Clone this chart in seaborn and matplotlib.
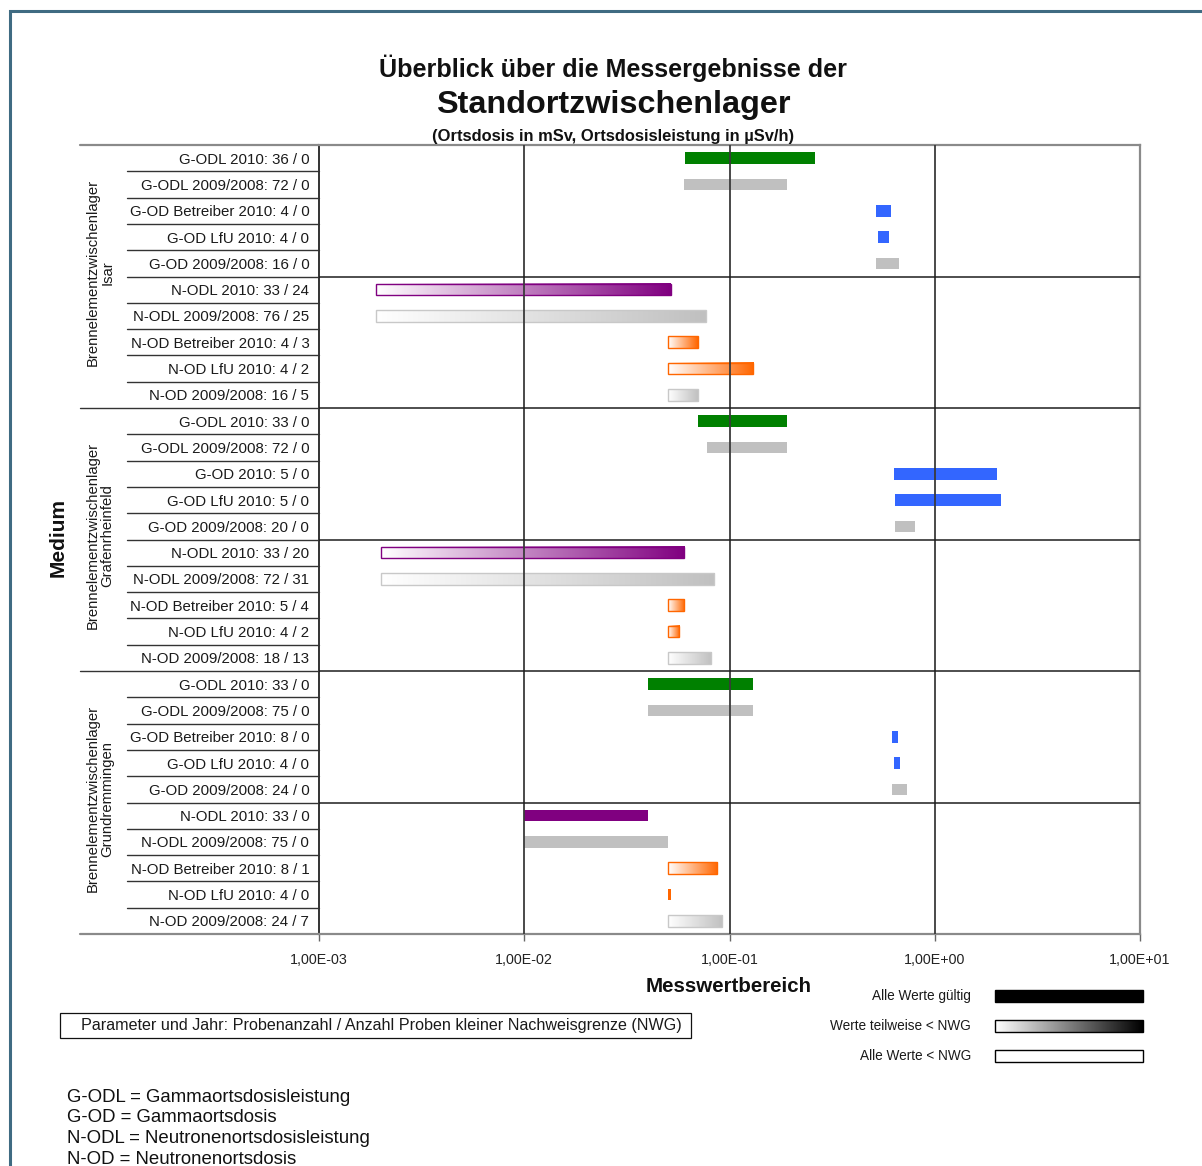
import numpy as np
import pandas as pd
import matplotlib
matplotlib.use("Agg")
import matplotlib.pyplot as plt
import matplotlib.transforms as mtransforms
from matplotlib.colors import LinearSegmentedColormap
from matplotlib.patches import Rectangle
from matplotlib.lines import Line2D
from matplotlib.ticker import FixedLocator, NullLocator
import seaborn as sns

W, H = 1202, 1166

# ---- data -------------------------------------------------------------
sites = [
    "Brennelementzwischenlager\nIsar",
    "Brennelementzwischenlager\nGrafenrheinfeld",
    "Brennelementzwischenlager\nGrundremmingen",
]

parameters = [
    # Isar
    "G-ODL 2010", "G-ODL 2009/2008", "G-OD Betreiber 2010", "G-OD LfU 2010", "G-OD 2009/2008",
    "N-ODL 2010", "N-ODL 2009/2008", "N-OD Betreiber 2010", "N-OD LfU 2010", "N-OD 2009/2008",
    # Grafenrheinfeld
    "G-ODL 2010", "G-ODL 2009/2008", "G-OD 2010", "G-OD LfU 2010", "G-OD 2009/2008",
    "N-ODL 2010", "N-ODL 2009/2008", "N-OD Betreiber 2010", "N-OD LfU 2010", "N-OD 2009/2008",
    # Grundremmingen
    "G-ODL 2010", "G-ODL 2009/2008", "G-OD Betreiber 2010", "G-OD LfU 2010", "G-OD 2009/2008",
    "N-ODL 2010", "N-ODL 2009/2008", "N-OD Betreiber 2010", "N-OD LfU 2010", "N-OD 2009/2008",
]

n_samples = [36, 72, 4, 4, 16, 33, 76, 4, 4, 16,
             33, 72, 5, 5, 20, 33, 72, 5, 4, 18,
             33, 75, 8, 4, 24, 33, 75, 8, 4, 24]

n_below_nwg = [0, 0, 0, 0, 0, 24, 25, 3, 2, 5,
               0, 0, 0, 0, 0, 20, 31, 4, 2, 13,
               0, 0, 0, 0, 0, 0, 0, 1, 0, 7]

range_min = [0.061, 0.060, 0.52, 0.53, 0.52, 0.0019, 0.0019, 0.050, 0.050, 0.050,
             0.070, 0.078, 0.63, 0.64, 0.64, 0.0020, 0.0020, 0.050, 0.050, 0.050,
             0.040, 0.040, 0.62, 0.635, 0.62, 0.010, 0.010, 0.050, 0.050, 0.050]

range_max = [0.26, 0.19, 0.61, 0.60, 0.67, 0.052, 0.077, 0.070, 0.13, 0.070,
             0.19, 0.19, 2.0, 2.1, 0.80, 0.060, 0.084, 0.060, 0.057, 0.081,
             0.13, 0.13, 0.66, 0.68, 0.73, 0.040, 0.050, 0.087, 0.052, 0.092]

x_ticks = [1e-3, 1e-2, 1e-1, 1e0, 1e1]
x_tick_labels = ["1,00E-03", "1,00E-02", "1,00E-01", "1,00E+00", "1,00E+01"]

legend_labels = ["Alle Werte gültig", "Werte teilweise < NWG", "Alle Werte < NWG"]

abbreviations = [
    "G-ODL = Gammaortsdosisleistung",
    "G-OD = Gammaortsdosis",
    "N-ODL = Neutronenortsdosisleistung",
    "N-OD = Neutronenortsdosis",
]

GRAY = "#c0c0c0"


def series_color(param):
    if "2009/2008" in param:
        return GRAY
    if param.startswith("G-ODL"):
        return "#008000"
    if param.startswith("G-OD"):
        return "#3366ff"
    if param.startswith("N-ODL"):
        return "#800080"
    return "#ff6600"


row_labels = [f"{p}: {n} / {b}" for p, n, b in zip(parameters, n_samples, n_below_nwg)]
row_keys = [f"{i:02d}|{lab}" for i, lab in enumerate(row_labels)]
df = pd.DataFrame({
    "row": row_keys,
    "start": range_min,
    "span": np.array(range_max) - np.array(range_min),
})

# ---- style ------------------------------------------------------------
sns.set_style("white")
plt.rcParams["font.family"] = ["Liberation Sans", "DejaVu Sans"]
plt.rcParams["text.color"] = "#111111"

fig = plt.figure(figsize=(W / 100, H / 100), dpi=100)


def fx(px):
    return px / W


def fy(py):
    return 1 - py / H


AX_L, AX_R, AX_T, AX_B = 319, 1140, 145, 934
ax = fig.add_axes([fx(AX_L), fy(AX_B), (AX_R - AX_L) / W, (AX_B - AX_T) / H])
ax.set_xscale("log")

sns.barplot(data=df, x="span", y="row", order=row_keys, orient="y",
            errorbar=None, width=0.44, left=df["start"].to_numpy(),
            color=GRAY, saturation=1, linewidth=0, ax=ax)

n_rows = len(row_keys)
ax.set_xlim(x_ticks[0], x_ticks[-1])
ax.set_ylim(n_rows - 0.5, -0.5)

# bar fills: solid when all values are valid, gradient when some are below NWG
bars = ax.containers[0]
to_axes = ax.transData + ax.transAxes.inverted()
grad = np.linspace(0, 1, 256).reshape(1, -1)
for i, patch in enumerate(bars):
    col = series_color(parameters[i])
    nb, n = n_below_nwg[i], n_samples[i]
    if nb == 0:
        patch.set_facecolor(col)
        patch.set_edgecolor("none")
        patch.set_zorder(2)
        continue
    edge = "#c8c8c8" if col == GRAY else col
    patch.set_edgecolor(edge)
    patch.set_linewidth(1.0)
    patch.set_zorder(2)
    if nb >= n:
        patch.set_facecolor("white")
        continue
    patch.set_facecolor("none")
    x0, y0 = patch.get_x(), patch.get_y()
    x1, y1 = x0 + patch.get_width(), y0 + patch.get_height()
    (ax0, ay0), (ax1, ay1) = to_axes.transform([(x0, y0), (x1, y1)])
    cmap = LinearSegmentedColormap.from_list(f"g{i}", ["white", col])
    ax.imshow(grad, cmap=cmap, extent=[ax0, ax1, min(ay0, ay1), max(ay0, ay1)],
              transform=ax.transAxes, aspect="auto", interpolation="bilinear",
              zorder=1.5)

ax.set_xlim(x_ticks[0], x_ticks[-1])
ax.set_ylim(n_rows - 0.5, -0.5)

# grid: decade lines and site / parameter-group separators on top of bars
for v in x_ticks[1:-1]:
    ax.axvline(v, color="#3a3a3a", lw=1.3, zorder=3)
for k in range(5, n_rows, 5):
    ax.axhline(k - 0.5, color="#1e1e1e", lw=1.1, zorder=3)

for side in ["top", "right", "bottom"]:
    ax.spines[side].set_color("#8a8a8a")
    ax.spines[side].set_linewidth(1.6)
ax.spines["left"].set_color("#333333")
ax.spines["left"].set_linewidth(1.4)

ax.xaxis.set_major_locator(FixedLocator(x_ticks))
ax.xaxis.set_minor_locator(NullLocator())
ax.set_xticklabels(x_tick_labels)
ax.tick_params(axis="x", bottom=True, direction="out", length=5, width=1,
               color="#666666", pad=9, labelsize=10.3, labelcolor="#222222")
ax.set_yticks(range(n_rows), labels=row_labels)
ax.tick_params(axis="y", left=False, length=0, pad=7, labelsize=10.8,
               labelcolor="#1a1a1a")
ax.set_xlabel("")
ax.set_ylabel("")

# label table rules left of the plot
trans = mtransforms.blended_transform_factory(fig.transFigure, ax.transData)
for k in range(1, n_rows):
    x_start = 80 if k % 10 == 0 else 127
    ax.add_line(Line2D([fx(x_start), fx(AX_L)], [k - 0.5, k - 0.5], transform=trans,
                       color="#333333", lw=1.0, clip_on=False))
for yb in (-0.5, n_rows - 0.5):
    ax.add_line(Line2D([fx(80), fx(AX_L)], [yb, yb], transform=trans,
                       color="#8a8a8a", lw=1.6, clip_on=False))

for s, site in enumerate(sites):
    ax.text(fx(100), s * 10 + 4.35, site, transform=trans, rotation=90,
            ha="center", va="center", multialignment="center",
            fontsize=10.7, color="#1a1a1a", linespacing=1.1)

fig.text(fx(58), fy(538), "Medium", rotation=90, ha="center", va="center",
         fontsize=15, fontweight="bold")

# titles
fig.text(fx(613), fy(68), "Überblick über die Messergebnisse der", ha="center",
         va="center", fontsize=18.1, fontweight="bold")
fig.text(fx(613), fy(105), "Standortzwischenlager", ha="center", va="center",
         fontsize=23.3, fontweight="bold")
fig.text(fx(613), fy(136), "(Ortsdosis in mSv, Ortsdosisleistung in µSv/h)",
         ha="center", va="center", fontsize=11.9, fontweight="bold")

fig.text(fx(729), fy(987), "Messwertbereich", ha="center", va="center",
         fontsize=14.8, fontweight="bold")

# explanation box
fig.add_artist(Rectangle((fx(60), fy(1038)), (691 - 60) / W, (1038 - 1013) / H,
                         transform=fig.transFigure, fill=False, ec="#111111", lw=0.9))
fig.text(fx(381), fy(1025.5),
         "Parameter und Jahr: Probenanzahl / Anzahl Proben kleiner Nachweisgrenze (NWG)",
         ha="center", va="center", fontsize=11.6, color="#1a1a1a")

# fill-style key
leg = fig.add_axes([fx(990), fy(1070), (1150 - 990) / W, (1070 - 982) / H])
leg.set_xlim(990, 1150)
leg.set_ylim(1070, 982)
leg.axis("off")
key_y = [990, 1020, 1050]
key_h = 12
leg.add_patch(Rectangle((995, key_y[0]), 148, key_h, fc="black", ec="black", lw=1))
leg.imshow(grad, cmap=LinearSegmentedColormap.from_list("bw", ["white", "black"]),
           extent=[995, 1143, key_y[1] + key_h, key_y[1]], aspect="auto",
           interpolation="bilinear", zorder=1)
leg.add_patch(Rectangle((995, key_y[1]), 148, key_h, fc="none", ec="black", lw=1, zorder=2))
leg.add_patch(Rectangle((995, key_y[2]), 148, key_h, fc="white", ec="black", lw=1))
leg.set_xlim(990, 1150)
leg.set_ylim(1070, 982)
for lab, yk in zip(legend_labels, key_y):
    fig.text(fx(971), fy(yk + key_h / 2), lab, ha="right", va="center",
             fontsize=9.8, color="#1a1a1a")

# abbreviations
for k, line in enumerate(abbreviations):
    fig.text(fx(67), fy(1097 + 20.7 * k), line, ha="left", va="center",
             fontsize=13.4, color="#111111")

# outer frame
fig.add_artist(Rectangle((fx(9.7), -0.05), 1.2, fy(11.3) + 0.05,
                         transform=fig.transFigure, fill=False, ec="#3f6b82", lw=2.2))

fig.savefig("out.png", dpi=100)
